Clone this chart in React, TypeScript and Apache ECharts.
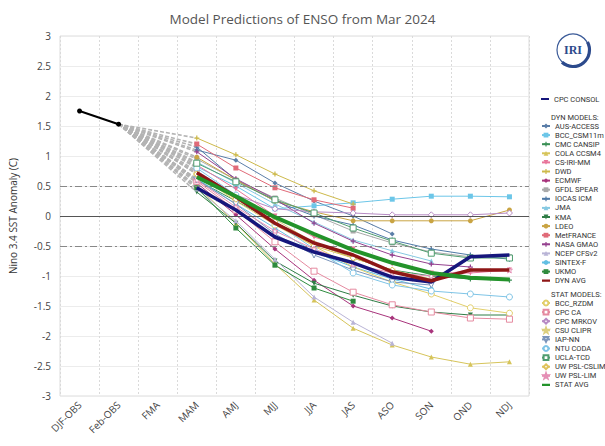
import React, { useEffect, useRef } from "react";
import * as echarts from "echarts";

// ---------- data ----------
const categories = ["DJF-OBS", "Feb-OBS", "FMA", "MAM", "AMJ", "MJJ", "JJA", "JAS", "ASO", "SON", "OND", "NDJ"];
const observed = [1.75, 1.53];
const forecastStartIndex = 3; // MAM
const referenceLines = [0.5, -0.5];
const zeroLine = 0;

// Forecast values: MAM, AMJ, MJJ, JJA, JAS, ASO, SON, OND, NDJ
const cpcConsol = [0.47, 0.1, -0.35, -0.6, -0.78, -1.02, -1.1, -0.68, -0.65];
const dynAvg = [0.72, 0.32, -0.12, -0.45, -0.65, -0.93, -1.08, -0.9, -0.9];
const statAvg = [0.65, 0.33, -0.02, -0.3, -0.57, -0.78, -0.95, -1.03, -1.06];

const ausAccess = [1.1, 0.93, 0.55, 0.25, 0.0, -0.3, null, null, null];
const bccCsm11m = [0.82, 0.5, 0.12, 0.17, 0.22, 0.28, 0.33, 0.33, 0.32];
const cmcCansip = [0.6, 0.25, -0.1, -0.45, -0.7, -0.9, -1.0, -1.05, -1.07];
const colaCcsm4 = [0.5, -0.12, -0.8, -1.4, -1.87, -2.15, -2.35, -2.47, -2.43];
const csIriMm = [0.85, 0.45, 0.0, -0.35, -0.55, -0.8, -0.95, -0.95, -0.9];
const dwd = [1.3, 1.02, 0.7, 0.42, 0.2, null, null, null, null];
const ecmwf = [0.55, 0.02, -0.55, -1.07, -1.5, -1.7, -1.92, null, null];
const gfdlSpear = [0.95, 0.6, 0.3, 0.02, -0.25, -0.45, -0.6, -0.68, -0.68];
const iocasIcm = [1.15, 0.6, 0.25, 0.0, -0.15, -0.4, -0.55, -0.65, -0.72];
const jma = [0.9, 0.55, 0.2, -0.1, -0.4, -0.58, -0.75, null, null];
const kma = [0.4, -0.12, -0.75, -1.12, -1.32, -1.5, -1.6, -1.65, -1.65];
const ldeo = [0.98, 0.6, 0.25, 0.07, -0.08, -0.08, -0.08, -0.08, 0.1];
const metFrance = [1.2, 0.8, 0.47, 0.27, 0.13, null, null, null, null];
const nasaGmao = [1.07, 0.62, 0.28, -0.12, -0.42, -0.65, -0.8, -0.85, null];
const ncepCfsv2 = [0.45, -0.08, -0.72, -1.35, -1.77, -2.12, null, null, null];
const sintexF = [0.62, 0.2, -0.2, -0.6, -0.85, -1.05, -1.22, null, null];
const ukmo = [0.47, -0.2, -0.82, -1.2, -1.42, null, null, null, null];

const bccRzdm = [0.7, 0.25, -0.15, -0.5, -0.85, -1.1, -1.3, -1.53, -1.62];
const cpcCa = [0.58, 0.1, -0.43, -0.92, -1.27, -1.48, -1.6, -1.7, -1.72];
const cpcMrkov = [0.75, 0.35, 0.12, 0.07, 0.05, 0.02, 0.02, 0.02, 0.05];
const csuClipr = [0.72, 0.3, -0.05, -0.45, -0.7, -0.9, -1.05, null, null];
const iapNn = [0.6, 0.2, -0.3, -0.65, -0.9, -1.1, -1.15, null, null];
const ntuCoda = [0.8, 0.35, -0.1, -0.55, -0.95, -1.15, -1.25, -1.3, -1.35];
const uclaTcd = [0.88, 0.57, 0.27, 0.05, -0.2, -0.42, -0.62, -0.7, -0.7];
const uwPslCslim = [0.7, 0.28, -0.1, -0.5, -0.7, -0.9, null, null, null];
const uwPslLim = [0.6, 0.15, -0.25, -0.55, -0.8, -0.95, -1.0, -0.9, -0.9];

// ---------- styles ----------
const PLUS = "path://M3,0h2v3h3v2h-3v3h-2v-3h-3v-2h3z";
const STAR = "path://M5,0L6.2,3.5L10,3.6L7,5.9L8.1,9.5L5,7.4L1.9,9.5L3,5.9L0,3.6L3.8,3.5Z";
// thick bar centred in a 6-high box (thin invisible slivers keep the box height)
const BAR = "path://M0,0H10V0.01H0Z M0,1.6H10V4.4H0Z M0,5.99H10V6H0Z";

const dynModels = [
  { name: "AUS-ACCESS", values: ausAccess, color: "#5b7ea8", symbol: "diamond" },
  { name: "BCC_CSM11m", values: bccCsm11m, color: "#6cc6e8", symbol: "rect" },
  { name: "CMC CANSIP", values: cmcCansip, color: "#3a8f55", symbol: PLUS },
  { name: "COLA CCSM4", values: colaCcsm4, color: "#d6c45a", symbol: "triangle" },
  { name: "CS-IRI-MM", values: csIriMm, color: "#e8759a", symbol: "triangle", rotate: 180 },
  { name: "DWD", values: dwd, color: "#cdb94a", symbol: PLUS },
  { name: "ECMWF", values: ecmwf, color: "#a8347c", symbol: "diamond" },
  { name: "GFDL SPEAR", values: gfdlSpear, color: "#a9a9a9", symbol: "rect" },
  { name: "IOCAS ICM", values: iocasIcm, color: "#4f79a6", symbol: PLUS },
  { name: "JMA", values: jma, color: "#86c9e2", symbol: "triangle" },
  { name: "KMA", values: kma, color: "#2f7d46", symbol: "triangle", rotate: 180 },
  { name: "LDEO", values: ldeo, color: "#c9a443", symbol: "circle" },
  { name: "MetFRANCE", values: metFrance, color: "#e06a78", symbol: "rect" },
  { name: "NASA GMAO", values: nasaGmao, color: "#94408e", symbol: PLUS },
  { name: "NCEP CFSv2", values: ncepCfsv2, color: "#b9b4d6", symbol: "triangle" },
  { name: "SINTEX-F", values: sintexF, color: "#62bfe3", symbol: "circle" },
  { name: "UKMO", values: ukmo, color: "#2e8b3e", symbol: "rect" },
];

const statModels = [
  { name: "BCC_RZDM", values: bccRzdm, color: "#e2cf6a", symbol: "circle" },
  { name: "CPC CA", values: cpcCa, color: "#e58aa0", symbol: "rect" },
  { name: "CPC MRKOV", values: cpcMrkov, color: "#b78ac4", symbol: "diamond" },
  { name: "CSU CLIPR", values: csuClipr, color: "#dccf7e", symbol: STAR },
  { name: "IAP-NN", values: iapNn, color: "#7b95bb", symbol: "triangle", rotate: 180 },
  { name: "NTU CODA", values: ntuCoda, color: "#7ec4e6", symbol: "circle" },
  { name: "UCLA-TCD", values: uclaTcd, color: "#4f9d6f", symbol: "rect" },
  { name: "UW PSL-CSLIM", values: uwPslCslim, color: "#dfc25b", symbol: "diamond" },
  { name: "UW PSL-LIM", values: uwPslLim, color: "#e58fb5", symbol: STAR },
];

const averages = [
  { name: "CPC CONSOL", values: cpcConsol, color: "#16167c", width: 3.5 },
  { name: "DYN AVG", values: dynAvg, color: "#8e1616", width: 3.5 },
  { name: "STAT AVG", values: statAvg, color: "#23932a", width: 4 },
];

const FONT = "'Open Sans', 'Noto Sans', sans-serif";
const LEGEND_FONT = "Roboto, 'Liberation Sans', sans-serif";

const pad = (values: (number | null)[]) => {
  const out: (number | null)[] = categories.map(() => null);
  values.forEach((v, i) => (out[forecastStartIndex + i] = v));
  return out;
};

const connector = (values: (number | null)[]) => {
  const out: (number | null)[] = categories.map(() => null);
  out[observed.length - 1] = observed[observed.length - 1];
  out[forecastStartIndex] = values[0];
  return out;
};

export default function App() {
  const ref = useRef<HTMLDivElement>(null);

  useEffect(() => {
    if (!ref.current) return;
    const chart = echarts.init(ref.current, undefined, { renderer: "svg" });

    const allModels = [...dynModels, ...statModels];
    const series: any[] = [];

    allModels.forEach((m) => {
      series.push({
        name: "_c_" + m.name,
        type: "line",
        data: connector(m.values),
        connectNulls: true,
        showSymbol: false,
        symbol: "none",
        silent: true,
        lineStyle: { color: "#b4b4b4", width: 1.6, type: [4, 2] },
        z: 1,
      });
    });

    dynModels.forEach((m) => {
      series.push({
        name: m.name,
        type: "line",
        data: pad(m.values),
        symbol: m.symbol,
        symbolSize: 5,
        symbolRotate: m.rotate || 0,
        lineStyle: { color: m.color, width: 1 },
        itemStyle: { color: m.color },
        z: 3,
      });
    });

    statModels.forEach((m) => {
      series.push({
        name: m.name,
        type: "line",
        data: pad(m.values),
        symbol: m.symbol,
        symbolSize: 6,
        symbolRotate: m.rotate || 0,
        lineStyle: { color: m.color, width: 1 },
        itemStyle: { color: "#ffffff", borderColor: m.color, borderWidth: 1 },
        z: 3,
      });
    });

    averages.forEach((a) => {
      series.push({
        name: a.name,
        type: "line",
        data: pad(a.values),
        symbol: "none",
        lineStyle: { color: a.color, width: a.width },
        itemStyle: { color: a.color },
        z: 5,
      });
    });

    series.push({
      name: "OBS",
      type: "line",
      data: categories.map((_, i) => (i < observed.length ? observed[i] : null)),
      symbol: "circle",
      symbolSize: 5,
      lineStyle: { color: "#000", width: 2 },
      itemStyle: { color: "#000" },
      z: 4,
      markLine: {
        silent: true,
        symbol: "none",
        label: { show: false },
        data: [
          { yAxis: zeroLine, lineStyle: { color: "#555", width: 1, type: "solid" } },
          ...referenceLines.map((v) => ({
            yAxis: v,
            lineStyle: { color: "#888", width: 1.2, type: [7, 3, 2, 3] },
          })),
        ],
      },
    });

    const legendBase = {
      orient: "vertical",
      left: 541,
      itemWidth: 8,
      itemHeight: 6,
      itemGap: 1.1,
      padding: 0,
      selectedMode: false,
      textStyle: { fontSize: 7.5, color: "#333", fontFamily: LEGEND_FONT, lineHeight: 8 },
    };
    const avgIcon = (name: string) => ({ name, icon: BAR });

    const option: any = {
      animation: false,
      backgroundColor: "#ffffff",
      title: {
        text: "Model Predictions of ENSO from Mar 2024",
        left: "center",
        top: 7,
        textStyle: { fontSize: 13.5, fontWeight: "normal", color: "#555", fontFamily: FONT },
      },
      grid: {
        left: 58,
        top: 36,
        width: 471,
        height: 360,
        show: true,
        borderColor: "#dcdcdc",
        borderWidth: 1,
      },
      xAxis: {
        type: "category",
        data: categories,
        boundaryGap: true,
        axisLine: { show: false },
        axisTick: { show: false },
        axisLabel: { rotate: 45, fontSize: 10, color: "#444", margin: 7, interval: 0, fontFamily: FONT },
        splitLine: { show: true, interval: 0, lineStyle: { color: "#dadada", type: [2, 2] } },
      },
      yAxis: {
        type: "value",
        min: -3,
        max: 3,
        interval: 0.5,
        name: "Nino 3.4 SST Anomaly (C)",
        nameLocation: "middle",
        nameGap: 42,
        nameTextStyle: { fontSize: 10, color: "#333", fontFamily: FONT },
        axisLine: { show: false },
        axisTick: { show: false },
        axisLabel: { fontSize: 10, color: "#444", margin: 9, fontFamily: FONT },
        splitLine: { lineStyle: { color: "#ececec" } },
      },
      legend: [
        { ...legendBase, top: 95, data: [avgIcon("CPC CONSOL")] },
        { ...legendBase, top: 122, data: [...dynModels.map((m) => m.name), avgIcon("DYN AVG")] },
        { ...legendBase, top: 299, data: [...statModels.map((m) => m.name), avgIcon("STAT AVG")] },
      ],
      graphic: [
        {
          type: "text",
          left: 551,
          top: 113,
          style: { text: "DYN MODELS:", fontSize: 7.5, fill: "#333", fontFamily: LEGEND_FONT },
        },
        {
          type: "text",
          left: 551,
          top: 290,
          style: { text: "STAT MODELS:", fontSize: 7.5, fill: "#333", fontFamily: LEGEND_FONT },
        },
        {
          type: "group",
          children: [
            {
              type: "circle",
              shape: { cx: 573, cy: 50, r: 16 },
              style: { fill: "#fff", stroke: "#3a5a98", lineWidth: 1.2 },
            },
            {
              type: "arc",
              shape: { cx: 573, cy: 50, r: 16.5, startAngle: -0.5, endAngle: 2.3 },
              style: { stroke: "#2c4a8c", lineWidth: 3.2, fill: "none" },
            },
            {
              type: "text",
              x: 573,
              y: 50,
              style: {
                text: "IRI",
                fontSize: 12,
                fontWeight: "bold",
                fontFamily: "'Liberation Serif', 'DejaVu Serif', serif",
                fill: "#2c4a8c",
                align: "center",
                verticalAlign: "middle",
              },
            },
          ],
        },
      ],
      series,
    };

    chart.setOption(option);
    return () => chart.dispose();
  }, []);

  return (
    <div
      ref={ref}
      style={{ position: "fixed", left: 0, top: 0, width: 605, height: 446, background: "#fff" }}
    />
  );
}
